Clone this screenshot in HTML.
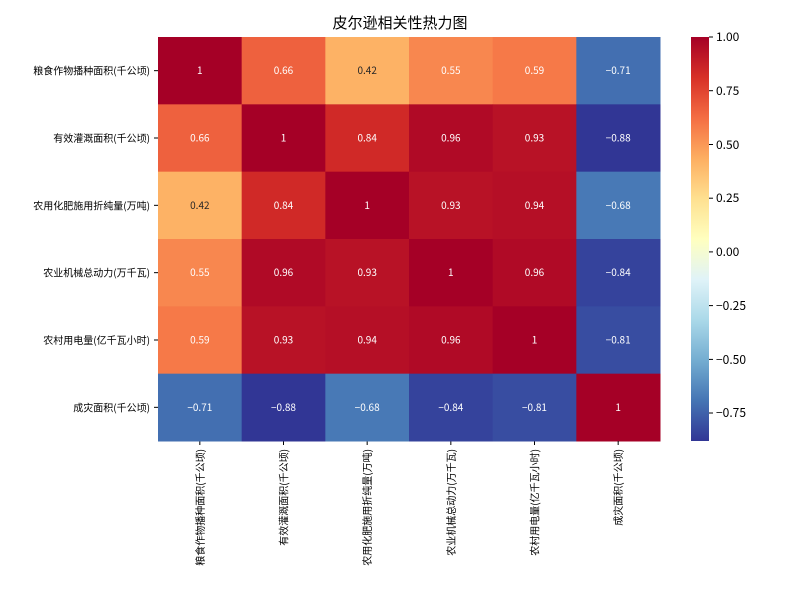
<!DOCTYPE html><html><head><meta charset="utf-8"><style>body{margin:0;background:#fff}svg{display:block}text{font-family:"WenQuanYi Zen Hei","Noto Sans CJK SC","Liberation Sans",sans-serif}</style></head><body>
<svg width="800" height="600" xmlns="http://www.w3.org/2000/svg">
<defs><linearGradient id="cb" x1="0" y1="1" x2="0" y2="0">
<stop offset="0" stop-color="#313695"/><stop offset="0.1" stop-color="#4575b4"/><stop offset="0.2" stop-color="#74add1"/><stop offset="0.3" stop-color="#abd9e9"/><stop offset="0.4" stop-color="#e0f3f8"/><stop offset="0.5" stop-color="#ffffbf"/><stop offset="0.6" stop-color="#fee090"/><stop offset="0.7" stop-color="#fdae61"/><stop offset="0.8" stop-color="#f46d43"/><stop offset="0.9" stop-color="#d73027"/><stop offset="1" stop-color="#a50026"/></linearGradient></defs>
<text x="400" y="28" font-size="15" text-anchor="middle">皮尔逊相关性热力图</text>
<g id="cells"></g>
<rect x="691" y="37" width="18" height="404" fill="url(#cb)"/>
<g font-size="12" fill="#000">
<line x1="709" y1="37" x2="713" y2="37" stroke="#000"/><text x="716" y="41">1.00</text>
<line x1="709" y1="90.7" x2="713" y2="90.7" stroke="#000"/><text x="716" y="95">0.75</text>
<line x1="709" y1="144.5" x2="713" y2="144.5" stroke="#000"/><text x="716" y="149">0.50</text>
<line x1="709" y1="198.2" x2="713" y2="198.2" stroke="#000"/><text x="716" y="202">0.25</text>
<line x1="709" y1="251.9" x2="713" y2="251.9" stroke="#000"/><text x="716" y="256">0.00</text>
<line x1="709" y1="305.6" x2="713" y2="305.6" stroke="#000"/><text x="716" y="310">−0.25</text>
<line x1="709" y1="359.4" x2="713" y2="359.4" stroke="#000"/><text x="716" y="364">−0.50</text>
<line x1="709" y1="413" x2="713" y2="413" stroke="#000"/><text x="716" y="417">−0.75</text>
</g>
</svg>
<script>
const labels=["粮食作物播种面积(千公顷)","有效灌溉面积(千公顷)","农用化肥施用折纯量(万吨)","农业机械总动力(万千瓦)","农村用电量(亿千瓦小时)","成灾面积(千公顷)"];
const v=[[1,.66,.42,.55,.59,-.71],[.66,1,.84,.96,.93,-.88],[.42,.84,1,.93,.94,-.68],[.55,.96,.93,1,.96,-.84],[.59,.93,.94,.96,1,-.81],[-.71,-.88,-.68,-.84,-.81,1]];
const st=[[0,[49,54,149]],[.1,[69,117,180]],[.2,[116,173,209]],[.3,[171,217,233]],[.4,[224,243,248]],[.5,[255,255,191]],[.6,[254,224,144]],[.7,[253,174,97]],[.8,[244,109,67]],[.9,[215,48,39]],[1,[165,0,38]]];
function col(x){let t=(x+0.88)/1.88;t=Math.max(0,Math.min(1,t));for(let i=0;i<10;i++){if(t<=st[i+1][0]){const f=(t-st[i][0])/0.1;const a=st[i][1],b=st[i+1][1];return `rgb(${a.map((c,k)=>Math.round(c+(b[k]-c)*f)).join(',')})`;}}return 'rgb(165,0,38)';}
const g=document.getElementById('cells');
const x0=158,y0=37,w=502/6,h=404/6;let s='';
for(let r=0;r<6;r++){for(let c=0;c<6;c++){const val=v[r][c];s+=`<rect x="${x0+c*w}" y="${y0+r*h}" width="${w+0.5}" height="${h+0.5}" fill="${col(val)}"/>`;
const txt=val==1?'1':(val<0?'−'+(-val).toFixed(2):val.toFixed(2));
s+=`<text x="${x0+c*w+w/2}" y="${y0+r*h+h/2+3.5}" font-size="10" text-anchor="middle" fill="${val==0.42?'#262626':'#fff'}">${txt}</text>`;}
s+=`<line x1="154" y1="${y0+r*h+h/2}" x2="158" y2="${y0+r*h+h/2}" stroke="#000"/><text x="150" y="${y0+r*h+h/2+4}" font-size="10" text-anchor="end">${labels[r]}</text>`;
const cx=x0+r*w+w/2;s+=`<line x1="${cx}" y1="441" x2="${cx}" y2="445" stroke="#000"/><text transform="translate(${cx+4},449) rotate(-90)" font-size="10" text-anchor="end">${labels[r]}</text>`;}
g.innerHTML=s;
</script>
</body></html>
